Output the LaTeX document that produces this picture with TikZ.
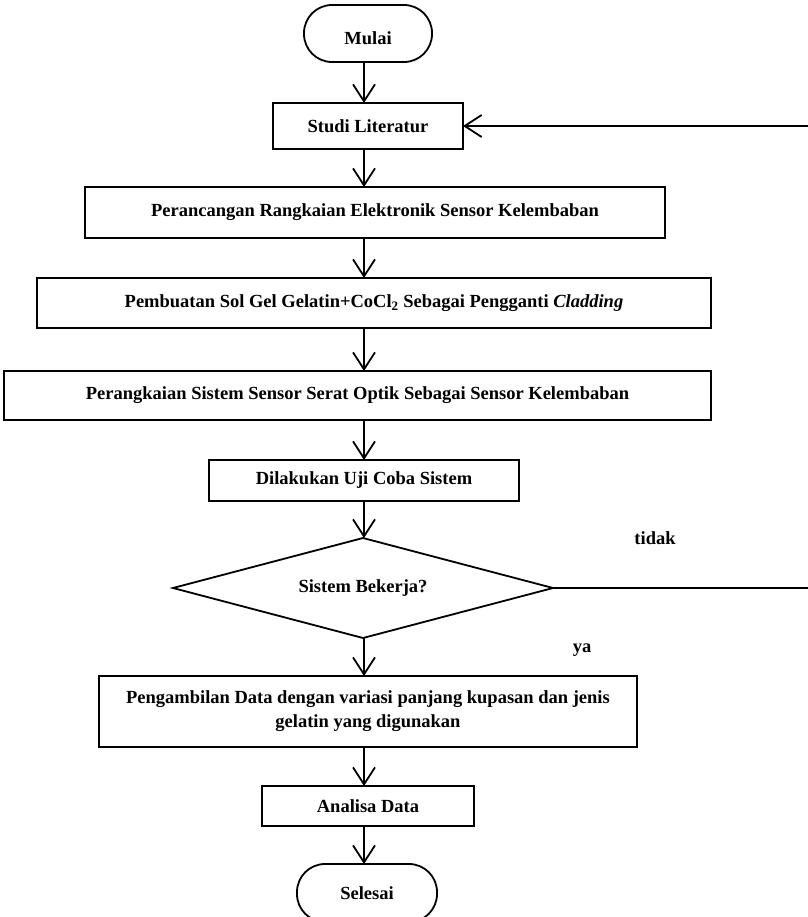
\documentclass[tikz,border=0pt]{standalone}
\usepackage{fontspec}
\setmainfont{Liberation Serif}
\usetikzlibrary{arrows.meta,positioning,shapes.geometric}

\begin{document}
\begin{tikzpicture}[x=1pt,y=1pt,font=\fontsize{18.5}{24}\selectfont\bfseries,box/.style={draw,line width=1.8pt,inner sep=0pt,outer sep=0pt,align=center},term/.style={box,rounded corners=28pt},cond/.style={box,diamond,aspect=3.8},flow/.style={-{Straight Barb[length=17pt,width=22pt]},line width=1.8pt}]
\useasboundingbox (0,0) rectangle (807,-917);
\node[term,minimum width=128pt,minimum height=57pt,text height=22pt] (mulai) at (368,-33.5) {Mulai};
\node[box,minimum width=190pt,minimum height=46pt,below=41pt of mulai] (studi) {Studi Literatur};
\node[box,minimum width=580pt,minimum height=51pt,below=38pt of studi,xshift=7pt] (rancang) {Perancangan Rangkaian Elektronik Sensor Kelembaban};
\node[box,minimum width=674pt,minimum height=50pt,below=40pt of rancang,xshift=-1pt] (buat) {Pembuatan Sol Gel Gelatin+CoCl\textsubscript{2} Sebagai Pengganti \textit{Cladding}};
\node[box,minimum width=707pt,minimum height=49pt,below=43pt of buat,xshift=-16.5pt] (rangkai) {Perangkaian Sistem Sensor Serat Optik Sebagai Sensor Kelembaban};
\node[box,minimum width=310pt,minimum height=41pt,below=40pt of rangkai,xshift=6.5pt] (uji) {Dilakukan Uji Coba Sistem};
\node[cond,minimum width=380pt,minimum height=100pt,below=37pt of uji,xshift=-1pt] (cek) {Sistem Bekerja?};
\node[box,minimum width=538pt,minimum height=71pt,below=38pt of cek,xshift=5pt] (ambil) {Pengambilan Data dengan variasi panjang kupasan dan jenis\\gelatin yang digunakan};
\node[box,minimum width=212pt,minimum height=40pt,below=39pt of ambil] (analisa) {Analisa Data};
\node[term,minimum width=140pt,minimum height=58pt,below=38pt of analisa,xshift=-1pt] (selesai) {Selesai};
\coordinate (ax) at (364,0);
\coordinate (back) at (812,0);
\foreach \s/\t in {mulai/studi,studi/rancang,rancang/buat,buat/rangkai,rangkai/uji,uji/cek,cek/ambil,ambil/analisa,analisa/selesai}\draw[flow] (\s.south -| ax)--(\t.north -| ax);
\draw[flow] (cek.east) -| (back |- studi.east) -- (studi.east);
\node (tidak) at (655,-538) {tidak};
\node (ya) at (582,-650) {ya};
\end{tikzpicture}
\end{document}
